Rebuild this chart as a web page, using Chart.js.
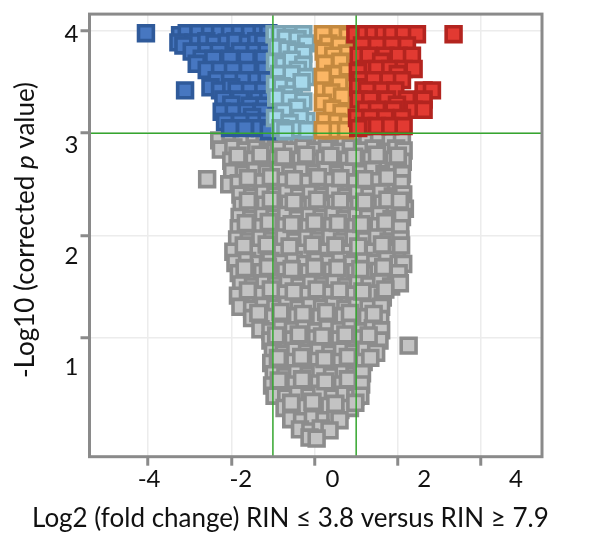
<!DOCTYPE html>
<html>
<head>
<meta charset="utf-8">
<title>Volcano plot</title>
<script src="https://cdn.jsdelivr.net/npm/chart.js@4"></script>
<style>
  html, body { margin: 0; padding: 0; background: #fff; }
</style>
</head>
<body>
<canvas id="chart" width="590" height="543"></canvas>
<script>
// tick values + cut-off lines
const xTicks = [-4, -2, 0, 2, 4];
const yTicks = [1, 2, 3, 4];
const cutoffX = [-1, 1];
const cutoffY = 3;

const xTitle = 'Log2 (fold change) RIN \u2264 3.8 versus RIN \u2265 7.9';
const yTitleParts = ['-Log10 (corrected ', 'p', ' value)'];

// [log2 fold change, -log10 p]
const bluePts = [
  [-4.05,3.98],
  [-3.23,3.96],[-3.07,3.98],[-2.79,3.98],[-2.51,3.98],[-2.27,3.98],[-2.03,3.98],[-1.79,3.98],[-1.55,3.98],[-1.27,3.98],[-1.11,3.98],
  [-3.27,3.89],[-2.91,3.89],[-2.6,3.9],[-2.4,3.88],[-2.11,3.89],[-1.9,3.9],[-1.6,3.88],[-1.4,3.9],[-1.23,3.89],[-3.15,3.86],
  [-2.95,3.8],[-2.59,3.8],[-2.3,3.8],[-1.79,3.8],[-1.43,3.8],[-1.15,3.8],
  [-2.71,3.73],[-2.43,3.73],[-2.03,3.73],[-1.63,3.73],[-1.23,3.73],[-2.83,3.68],
  [-2.59,3.62],[-2.27,3.62],[-1.96,3.62],[-1.6,3.62],[-1.19,3.62],
  [-2.35,3.52],[-2.03,3.52],[-1.7,3.52],[-1.39,3.52],[-1.15,3.52],
  [-3.11,3.42],[-2.5,3.45],[-2.27,3.42],[-2.0,3.45],[-1.87,3.42],[-1.55,3.42],[-1.23,3.42],
  [-2.19,3.33],[-1.79,3.33],[-1.35,3.33],[-1.11,3.33],
  [-2.0,3.28],[-1.55,3.27],[-1.2,3.27],
  [-2.23,3.21],[-1.94,3.21],[-1.63,3.21],[-1.27,3.21],[-1.5,3.16],
  [-2.15,3.11],[-1.79,3.11],[-1.43,3.11],[-1.15,3.11],
  [-2.03,3.05],[-1.67,3.05],[-1.31,3.05],[-1.1,3.02]
];

const lightBluePts = [
  [-0.96,3.97],[-0.83,3.97],[-0.55,3.97],[-0.27,3.97],[-0.69,3.93],[-0.41,3.92],[-0.2,3.88],
  [-0.9,3.84],[-0.65,3.82],[-0.45,3.8],[-0.27,3.78],[-0.95,3.7],[-0.75,3.67],[-0.55,3.72],
  [-0.27,3.67],[-0.4,3.62],[-0.85,3.58],[-0.55,3.58],[-0.2,3.55],[-0.95,3.48],[-0.79,3.46],
  [-0.5,3.45],[-0.31,3.5],[-0.66,3.38],[-0.92,3.35],[-0.59,3.33],[-0.27,3.31],[-0.42,3.25],
  [-0.75,3.21],[-0.95,3.15],[-0.2,3.12],[-0.35,3.15],[-0.6,3.1],[-0.82,3.05],[-0.45,3.04],
  [-0.18,3.03],[-0.7,3.02]
];

const orangePts = [
  [0.2,3.97],[0.57,3.97],[0.8,3.95],[0.33,3.88],[0.6,3.86],[0.78,3.78],[0.22,3.8],[0.45,3.76],
  [0.62,3.7],[0.25,3.68],[0.45,3.58],[0.8,3.6],[0.2,3.55],[0.82,3.5],[0.6,3.48],[0.21,3.42],
  [0.4,3.4],[0.66,3.36],[0.2,3.3],[0.42,3.24],[0.86,3.21],[0.65,3.2],[0.25,3.12],[0.54,3.11],
  [0.8,3.1],[0.74,3.03],[0.4,3.03],[0.2,3.03]
];

const redPts = [
  [0.98,3.97],[1.22,3.97],[1.42,3.97],[1.66,3.97],[1.86,3.97],[2.14,3.97],[2.46,3.97],[3.34,3.97],
  [1.14,3.86],[1.5,3.86],[1.86,3.86],[2.22,3.86],
  [1.06,3.76],[1.3,3.76],[1.7,3.76],[2.02,3.76],[2.34,3.76],[1.6,3.7],
  [1.22,3.63],[1.5,3.63],[1.82,3.63],[2.14,3.63],[2.38,3.63],[1.04,3.6],[2.0,3.58],
  [1.1,3.52],[1.42,3.52],[1.78,3.52],[2.1,3.52],[1.05,3.45],
  [1.26,3.42],[1.62,3.42],[1.94,3.42],[2.62,3.42],[2.82,3.42],
  [1.06,3.33],[1.34,3.33],[1.74,3.33],[2.22,3.33],[2.62,3.33],[1.98,3.28],
  [1.22,3.23],[1.5,3.23],[1.9,3.23],[2.38,3.23],[2.62,3.23],
  [1.02,3.15],[1.34,3.15],[1.7,3.15],[2.1,3.15],
  [1.18,3.07],[1.5,3.07],[1.82,3.07],[2.14,3.07],[1.05,3.05]
];

const grayPts = [
  [-2.29,2.93],[-2.02,2.92],[-1.75,2.94],[-1.44,2.92],[-1.2,2.93],[-0.93,2.92],[-0.64,2.94],[-0.38,2.92],[-0.1,2.93],[0.17,2.92],[0.46,2.94],[0.72,2.92],[1.0,2.93],[1.27,2.92],[1.55,2.94],[1.83,2.92],[2.1,2.93],
  [-2.25,2.84],[-1.95,2.86],[-1.66,2.83],[-1.4,2.85],[-1.12,2.82],[-0.85,2.85],[-0.55,2.83],[-0.27,2.86],[0.02,2.83],[0.3,2.85],[0.6,2.82],[0.87,2.86],[1.14,2.83],[1.42,2.85],[1.7,2.82],[1.96,2.85],[2.14,2.83],
  [-2.0,2.73],[-1.72,2.71],[-1.46,2.74],[-1.18,2.72],[-0.9,2.75],[-0.62,2.71],[-0.33,2.74],[-0.05,2.72],[0.24,2.75],[0.52,2.71],[0.8,2.74],[1.08,2.72],[1.36,2.75],[1.63,2.71],[1.9,2.74],[2.12,2.72],
  [-1.98,2.62],[-1.7,2.6],[-1.42,2.63],[-1.15,2.61],[-0.86,2.64],[-0.58,2.6],[-0.3,2.63],[0.0,2.61],[0.28,2.64],[0.56,2.6],[0.84,2.63],[1.12,2.61],[1.4,2.64],[1.68,2.6],[1.95,2.63],[2.1,2.6],
  [-2.58,2.55],[-2.05,2.5],
  [-1.82,2.51],[-1.55,2.49],[-1.27,2.52],[-0.98,2.5],[-0.7,2.53],[-0.42,2.49],[-0.14,2.52],[0.15,2.5],[0.43,2.53],[0.71,2.49],[0.98,2.52],[1.26,2.5],[1.54,2.53],[1.82,2.49],[2.08,2.51],
  [-1.78,2.4],[-1.5,2.38],[-1.22,2.41],[-0.94,2.39],[-0.66,2.42],[-0.37,2.38],[-0.09,2.41],[0.2,2.39],[0.48,2.42],[0.76,2.38],[1.04,2.41],[1.32,2.39],[1.6,2.42],[1.88,2.38],[2.13,2.4],
  [-1.75,2.29],[-1.47,2.27],[-1.19,2.3],[-0.9,2.28],[-0.62,2.31],[-0.34,2.27],[-0.05,2.3],[0.23,2.28],[0.51,2.31],[0.79,2.27],[1.07,2.3],[1.35,2.28],[1.63,2.31],[1.91,2.27],[2.17,2.26],
  [-1.8,2.18],[-1.52,2.16],[-1.24,2.19],[-0.96,2.17],[-0.68,2.2],[-0.4,2.16],[-0.12,2.19],[0.17,2.17],[0.45,2.2],[0.73,2.16],[1.01,2.19],[1.29,2.17],[1.57,2.2],[1.85,2.16],[2.1,2.18],
  [-1.82,2.07],[-1.54,2.05],[-1.26,2.08],[-0.98,2.06],[-0.7,2.09],[-0.42,2.05],[-0.14,2.08],[0.14,2.06],[0.42,2.09],[0.7,2.05],[0.98,2.08],[1.26,2.06],[1.54,2.09],[1.82,2.05],[2.06,2.07],
  [-1.86,1.96],[-1.58,1.94],[-1.3,1.97],[-1.02,1.95],[-0.74,1.98],[-0.46,1.94],[-0.18,1.97],[0.1,1.95],[0.38,1.98],[0.66,1.94],[0.94,1.97],[1.22,1.95],[1.5,1.98],[1.78,1.94],[2.06,1.96],
  [-1.95,1.84],[-1.66,1.86],[-1.38,1.83],[-1.1,1.86],[-0.82,1.84],[-0.54,1.87],[-0.26,1.83],[0.02,1.86],[0.3,1.84],[0.58,1.87],[0.86,1.83],[1.14,1.86],[1.42,1.84],[1.7,1.87],[1.98,1.84],
  [-1.9,1.73],[-1.62,1.75],[-1.34,1.72],[-1.06,1.75],[-0.78,1.73],[-0.5,1.76],[-0.22,1.72],[0.06,1.75],[0.34,1.73],[0.62,1.76],[0.9,1.72],[1.18,1.75],[1.46,1.73],[1.74,1.76],[2.02,1.72],[2.13,1.72],
  [-1.82,1.63],[-1.54,1.61],[-1.26,1.64],[-0.98,1.62],[-0.7,1.65],[-0.42,1.61],[-0.14,1.64],[0.14,1.62],[0.42,1.65],[0.7,1.61],[0.98,1.64],[1.26,1.62],[1.54,1.65],[1.82,1.61],[2.02,1.63],
  [-1.76,1.52],[-1.48,1.5],[-1.2,1.53],[-0.92,1.51],[-0.64,1.54],[-0.36,1.5],[-0.08,1.53],[0.2,1.51],[0.48,1.54],[0.76,1.5],[1.04,1.53],[1.32,1.51],[1.6,1.54],[1.84,1.5],[2.05,1.53],
  [-1.84,1.41],[-1.56,1.39],[-1.28,1.42],[-1.0,1.4],[-0.72,1.43],[-0.44,1.39],[-0.16,1.42],[0.12,1.4],[0.4,1.43],[0.68,1.39],[0.96,1.42],[1.24,1.4],[1.5,1.43],[1.64,1.39],
  [-1.78,1.3],[-1.5,1.28],[-1.22,1.31],[-0.94,1.29],[-0.66,1.32],[-0.38,1.28],[-0.1,1.31],[0.18,1.29],[0.46,1.32],[0.74,1.28],[1.02,1.31],[1.3,1.29],[1.6,1.3],
  [-1.5,1.19],[-1.24,1.17],[-0.98,1.2],[-0.7,1.18],[-0.42,1.21],[-0.14,1.17],[0.14,1.2],[0.42,1.18],[0.7,1.21],[0.98,1.17],[1.26,1.2],[1.58,1.18],
  [-1.3,1.08],[-1.06,1.06],[-0.8,1.09],[-0.52,1.07],[-0.24,1.1],[0.04,1.06],[0.32,1.09],[0.6,1.07],[0.88,1.1],[1.16,1.06],[1.4,1.09],[1.6,1.07],
  [-1.06,0.97],[-0.8,0.95],[-0.52,0.98],[-0.24,0.96],[0.04,0.99],[0.32,0.95],[0.6,0.98],[0.88,0.96],[1.16,0.99],[1.4,0.95],[1.56,0.97],
  [2.26,0.92],
  [-1.0,0.86],[-0.74,0.84],[-0.46,0.87],[-0.18,0.85],[0.1,0.88],[0.38,0.84],[0.66,0.87],[0.94,0.85],[1.22,0.88],[1.48,0.85],
  [-1.04,0.75],[-0.76,0.73],[-0.48,0.76],[-0.2,0.74],[0.08,0.77],[0.36,0.73],[0.64,0.76],[0.92,0.74],[1.18,0.76],
  [-0.98,0.64],[-0.7,0.62],[-0.42,0.65],[-0.14,0.63],[0.14,0.66],[0.42,0.62],[0.7,0.65],[0.96,0.63],[1.14,0.65],
  [-1.02,0.53],[-0.74,0.51],[-0.46,0.54],[-0.18,0.52],[0.1,0.55],[0.38,0.51],[0.66,0.54],[0.92,0.52],[1.12,0.54],
  [-0.96,0.43],[-0.68,0.41],[-0.4,0.44],[-0.12,0.42],[0.16,0.45],[0.44,0.41],[0.72,0.44],[0.98,0.42],[1.1,0.43],
  [-0.72,0.31],[-0.46,0.29],[-0.2,0.32],[0.08,0.3],[0.36,0.33],[0.62,0.29],[0.85,0.31],
  [-0.56,0.2],[-0.3,0.18],[-0.04,0.21],[0.24,0.19],[0.5,0.21],[0.6,0.19],
  [-0.35,0.1],[-0.1,0.08],[0.15,0.11],[0.36,0.09],
  [-0.12,0.02],[0.05,0.01],
  // second layer, between the rows above
  [-1.85,2.78],[-1.3,2.79],[-0.75,2.77],[-0.2,2.79],[0.38,2.78],[0.95,2.77],[1.5,2.79],[2.0,2.78],
  [-1.6,2.56],[-1.05,2.57],[-0.5,2.55],[0.08,2.57],[0.62,2.56],[1.2,2.55],[1.75,2.57],
  [-1.6,2.34],[-1.05,2.35],[-0.5,2.33],[0.06,2.35],[0.62,2.34],[1.2,2.33],[1.75,2.35],[2.05,2.34],
  [-1.65,2.12],[-1.1,2.13],[-0.55,2.11],[0.0,2.13],[0.56,2.12],[1.12,2.11],[1.7,2.13],
  [-1.7,1.9],[-1.15,1.91],[-0.6,1.89],[-0.05,1.91],[0.5,1.9],[1.05,1.89],[1.62,1.91],[2.08,1.9],
  [-1.68,1.68],[-1.12,1.69],[-0.55,1.67],[0.0,1.69],[0.55,1.68],[1.1,1.67],[1.65,1.69],
  [-1.6,1.46],[-1.05,1.47],[-0.5,1.45],[0.05,1.47],[0.6,1.46],[1.15,1.45],[1.7,1.47],
  [-1.35,1.24],[-0.82,1.25],[-0.28,1.23],[0.28,1.25],[0.85,1.24],[1.42,1.23],
  [-0.92,1.02],[-0.38,1.03],[0.18,1.01],[0.74,1.03],[1.3,1.02],
  [-0.88,0.8],[-0.32,0.81],[0.24,0.79],[0.8,0.81],[1.34,0.8],
  [-0.86,0.58],[-0.3,0.59],[0.26,0.57],[0.8,0.59],
  [-0.56,0.36],[-0.05,0.37],[0.5,0.35],[0.98,0.36]
];

const toXY = pts => pts.map(([x, y]) => ({ x, y }));
const sq = (data, fill, edge) => ({
  data: toXY(data),
  pointStyle: 'rect',
  pointRadius: 10.5,
  pointHoverRadius: 10.5,
  borderWidth: 3.6,
  backgroundColor: fill,
  borderColor: edge,
  showLine: false
});

const tickFont = { family: 'Lato', size: 24, lineHeight: 0.9 };
const tickColor = '#111';
const fixTicks = vals => s => { s.ticks = vals.map(v => ({ value: v })); };

// lines at the cut-offs + the grey frame
const overlay = {
  id: 'overlay',
  afterDatasetsDraw(chart) {
    const { ctx, chartArea: a, scales } = chart;
    ctx.save();
    ctx.strokeStyle = '#35a62f';
    ctx.lineWidth = 1.5;
    ctx.beginPath();
    cutoffX.forEach(v => {
      const px = scales.x.getPixelForValue(v);
      ctx.moveTo(px, a.top);
      ctx.lineTo(px, a.bottom);
    });
    const py = scales.y.getPixelForValue(cutoffY);
    ctx.moveTo(a.left, py);
    ctx.lineTo(a.right, py);
    ctx.stroke();
    ctx.strokeStyle = '#8a8a8a';
    ctx.lineWidth = 3;
    ctx.strokeRect(a.left, a.top, a.right - a.left, a.bottom - a.top);
    ctx.restore();
  }
};

// axis titles (y has an italic p)
function fitFont(ctx, parts, target, style) {
  const w = s => parts.reduce((sum, p, i) => {
    ctx.font = (style[i] || '') + s + 'px Lato';
    return sum + ctx.measureText(p).width;
  }, 0);
  const size = 23 * target / w(23);
  return Math.max(20, Math.min(26, size));
}

const titles = {
  id: 'titles',
  afterDraw(chart) {
    const ctx = chart.ctx;
    ctx.save();
    ctx.fillStyle = tickColor;
    ctx.textBaseline = 'alphabetic';
    let size = fitFont(ctx, [xTitle], 557, ['']);
    ctx.font = size + 'px Lato';
    ctx.fillText(xTitle, 32, 527);

    const styles = ['', 'italic ', ''];
    size = fitFont(ctx, yTitleParts, 331, styles);
    ctx.translate(34, 378);
    ctx.rotate(-Math.PI / 2);
    let x = 0;
    yTitleParts.forEach((p, i) => {
      ctx.font = styles[i] + size + 'px Lato';
      ctx.fillText(p, x, 0);
      x += ctx.measureText(p).width;
    });
    ctx.restore();
  }
};

new Chart(document.getElementById('chart'), {
  type: 'scatter',
  data: {
    datasets: [
      sq(redPts, '#e23a32', '#b3241f'),
      sq(orangePts, '#fbb665', '#c4893f'),
      sq(lightBluePts, '#a6d9ec', '#7ba4b4'),
      sq(bluePts, '#4777c1', '#2f5a9a'),
      sq(grayPts, '#c3c3c3', '#8c8c8c')
    ]
  },
  options: {
    responsive: false,
    devicePixelRatio: 1,
    animation: false,
    layout: { padding: { top: 12, right: 48, bottom: 0, left: 0 } },
    plugins: { legend: { display: false }, tooltip: { enabled: false } },
    scales: {
      x: {
        type: 'linear', position: 'bottom', weight: 0,
        min: -5.406, max: 5.464,
        afterBuildTicks: fixTicks(xTicks),
        ticks: { display: false },
        grid: { color: '#ececec', lineWidth: 1.5, tickColor: '#8a8a8a', tickLength: 9, tickWidth: 3 },
        border: { display: false },
        afterFit: s => { s.height = 10; }
      },
      xLab: {
        type: 'linear', position: 'bottom', weight: 1,
        min: -5.298, max: 4.565,
        afterBuildTicks: fixTicks(xTicks),
        ticks: { font: tickFont, color: tickColor, padding: 2, maxRotation: 0, autoSkip: false },
        grid: { display: false, drawTicks: false },
        border: { display: false },
        afterFit: s => { s.height = 76.3; }
      },
      y: {
        type: 'linear', position: 'left', weight: 0,
        min: -0.1676, max: 4.1667,
        afterBuildTicks: fixTicks(yTicks),
        ticks: { display: false },
        grid: { color: '#ececec', lineWidth: 1.5, tickColor: '#8a8a8a', tickLength: 9, tickWidth: 3 },
        border: { display: false },
        afterFit: s => { s.width = 10; }
      },
      yLab: {
        type: 'linear', position: 'left', weight: 1,
        min: 0.1912, max: 4.183,
        afterBuildTicks: fixTicks(yTicks),
        ticks: { font: tickFont, color: tickColor, padding: 1 },
        grid: { display: false, drawTicks: false },
        border: { display: false },
        afterFit: s => { s.width = 79.5; }
      }
    }
  },
  plugins: [overlay, titles]
});
</script>
</body>
</html>
